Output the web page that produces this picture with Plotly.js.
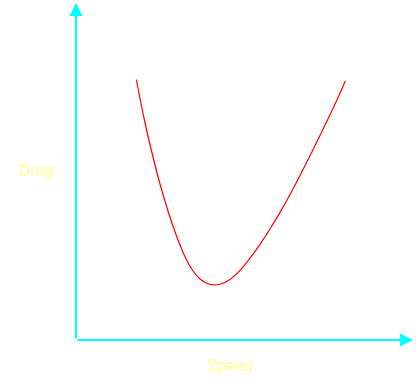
<!DOCTYPE html>
<html>
<head>
<meta charset="utf-8">
<script src="https://cdn.plot.ly/plotly-3.0.1.min.js"></script>
<style>html,body{margin:0;padding:0;background:#fff;}#chart{width:419px;height:386px;}</style>
</head>
<body>
<div id="chart"></div>
<script>
const speed = [60.3, 68, 76, 84, 92, 100, 108, 116, 124, 132, 139, 144, 154, 164, 174, 184, 194, 204, 214, 224, 234, 244, 254, 264, 269.3];
const drag  = [260.5, 222, 187, 156, 129, 105.5, 85.5, 70.5, 61, 56.2, 55, 55.7, 60.5, 69.6, 81.8, 95.7, 111, 127.6, 145.5, 164.5, 184.2, 204.4, 225.3, 246.8, 259];
const xLabel = "Speed";
const yLabel = "Drag";

const axisColor = "#00ffff";
const labelColor = "#ffff99";
const xMax = 337, yMax = 335;

const trace = {
  x: speed, y: drag, type: "scatter", mode: "lines",
  line: {color: "#ff0000", width: 1.2, shape: "spline", smoothing: 1},
  hoverinfo: "skip"
};

const layout = {
  width: 419, height: 386,
  margin: {l: 76, r: 6, t: 5, b: 46},
  paper_bgcolor: "#ffffff", plot_bgcolor: "#ffffff",
  showlegend: false,
  xaxis: {range: [0, xMax], showgrid: false, zeroline: false, showticklabels: false, ticks: "", showline: false, fixedrange: true},
  yaxis: {range: [0, yMax], showgrid: false, zeroline: false, showticklabels: false, ticks: "", showline: false, fixedrange: true},
  annotations: [
    {xref: "x", yref: "y", axref: "x", ayref: "y", x: xMax, y: 0, ax: 0, ay: 0, text: "", showarrow: true,
     arrowhead: 2, arrowsize: 1.3, arrowwidth: 2, arrowcolor: axisColor, standoff: 0, startstandoff: 0},
    {xref: "x", yref: "y", axref: "x", ayref: "y", x: 0, y: yMax + 2, ax: 0, ay: 0, text: "", showarrow: true,
     arrowhead: 2, arrowsize: 1.3, arrowwidth: 2, arrowcolor: axisColor, standoff: 0, startstandoff: 0},
    {xref: "paper", yref: "paper", x: (230 - 76) / 337, y: -25 / 335, xanchor: "center", yanchor: "middle",
     text: xLabel, showarrow: false, font: {family: "Liberation Sans, Arial, sans-serif", size: 16, color: labelColor}},
    {xref: "paper", yref: "paper", x: (36 - 76) / 337, y: (340 - 170) / 335, xanchor: "center", yanchor: "middle",
     text: yLabel, showarrow: false, font: {family: "Liberation Sans, Arial, sans-serif", size: 16, color: labelColor}}
  ]
};

Plotly.newPlot("chart", [trace], layout, {displayModeBar: false, staticPlot: true});
</script>
</body>
</html>
